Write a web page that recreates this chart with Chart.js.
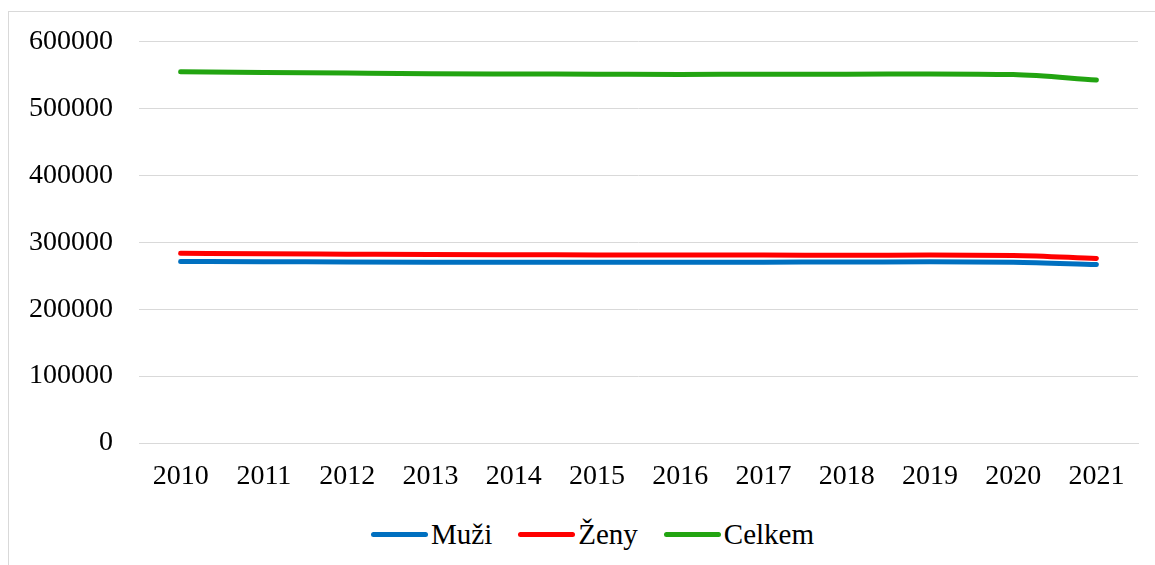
<!DOCTYPE html>
<html><head><meta charset="utf-8">
<script src="https://cdn.jsdelivr.net/npm/chart.js@4"></script>
<style>
html,body{margin:0;padding:0;background:#fff;overflow:hidden;}
#frame{position:absolute;left:8px;top:11px;width:1160px;height:570px;border:1px solid #d9d9d9;box-sizing:border-box;}
#cw{position:absolute;left:9px;top:-1px;width:1146px;height:513px;}
#legend{position:absolute;left:371px;top:514px;height:40px;display:flex;align-items:center;font-family:'Liberation Serif','Times New Roman',serif;font-size:29px;color:#000;white-space:nowrap;}
#legend .it{display:flex;align-items:center;margin-right:26px;}
#legend .ln{width:57px;height:5px;border-radius:3px;margin-right:3px;}
</style></head>
<body><div id="frame"></div><div id="cw"><canvas id="c"></canvas></div><div id="legend"></div>
<script>
const years = ['2010','2011','2012','2013','2014','2015','2016','2017','2018','2019','2020','2021'];
const muzi = [271500,271200,270800,270500,270400,270300,270200,270500,270600,271000,270500,266800];
const zeny = [283800,283000,282400,281800,281500,281300,281000,281000,280800,281000,280500,275900];
const celkem = [555300,554200,553200,552300,551900,551600,551200,551500,551400,552000,551000,542700];
const yTicks = [0,100000,200000,300000,400000,500000,600000];
const seriesNames = ['Muži','Ženy','Celkem'];
const seriesColors = ['#0070c0','#ff0000','#22a411'];
const FONT = "'Liberation Serif', 'Times New Roman', serif";

const chart = new Chart(document.getElementById('c'), {
  type: 'line',
  data: {
    labels: years,
    datasets: [muzi, zeny, celkem].map((d,i)=>({
      label: seriesNames[i], data: d, borderColor: seriesColors[i], backgroundColor: seriesColors[i]
    }))
  },
  options: {
    responsive: true,
    maintainAspectRatio: false,
    animation: false,
    layout: {padding: {left: 0, right: 17, top: 16, bottom: 0}},
    elements: {
      line: {borderWidth: 5, tension: 0.3, borderCapStyle: 'round', cubicInterpolationMode: 'monotone'},
      point: {radius: 0}
    },
    plugins: {legend: {display: false}, tooltip: {enabled: false}},
    scales: {
      x: {
        offset: true,
        grid: {display: false, drawTicks: false},
        border: {display: true, color: '#d9d9d9', width: 1},
        ticks: {font: {family: FONT, size: 28}, color: '#000', padding: 17, maxRotation: 0, autoSkip: false},
        afterFit(axis){ axis.height = 69; }
      },
      y: {
        min: 0, max: 600000,
        afterBuildTicks(axis){ axis.ticks = yTicks.map(v=>({value:v})); },
        grid: {color: '#d9d9d9', lineWidth: 1, drawTicks: false},
        border: {display: false},
        ticks: {font: {family: FONT, size: 28}, color: '#000', padding: 26,
          callback: v => String(v)},
        afterFit(axis){ axis.width = 130; }
      }
    }
  }
});

const lg = document.getElementById('legend');
chart.data.datasets.forEach(d=>{
  const it = document.createElement('div'); it.className='it';
  const ln = document.createElement('div'); ln.className='ln'; ln.style.background=d.borderColor;
  const tx = document.createElement('span'); tx.textContent = d.label;
  it.appendChild(ln); it.appendChild(tx); lg.appendChild(it);
});
</script>
</body></html>
